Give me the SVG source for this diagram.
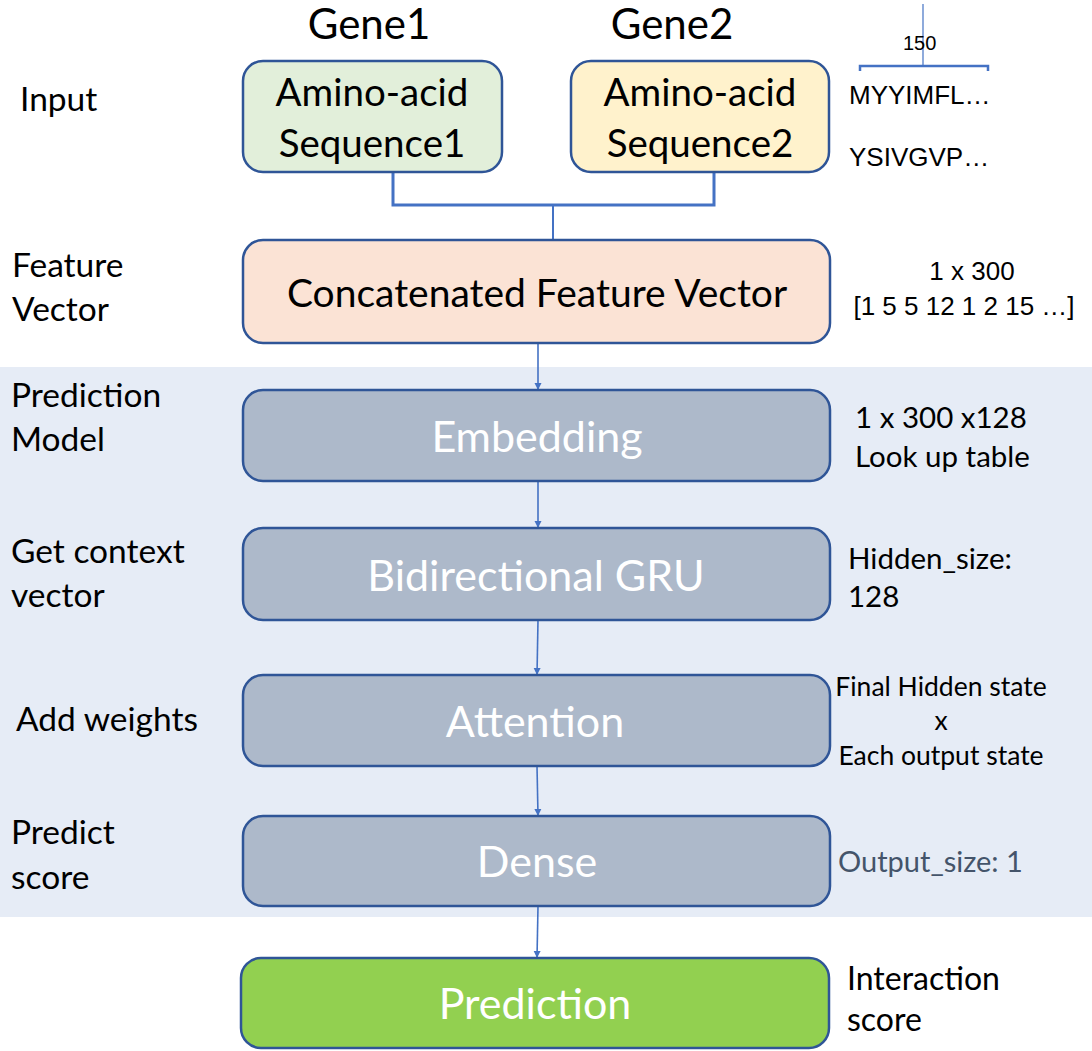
<svg xmlns="http://www.w3.org/2000/svg" width="1092" height="1051" viewBox="0 0 1092 1051">
  <defs>
    <style>
      .lbl { font-family: Lato, "Open Sans", sans-serif; fill: #000; }
      .arial { font-family: "Liberation Sans", Arial, sans-serif; fill: #000; }
      .box { stroke: #2F5597; stroke-width: 2.5; }
      .wtxt { font-family: Lato, "Open Sans", sans-serif; fill: #fff; font-size: 43px; text-anchor: middle; }
      .btxt { font-family: Lato, "Open Sans", sans-serif; fill: #000; text-anchor: middle; }
      .conn { stroke: #4472C4; fill: none; }
    </style>
    <marker id="arrow" viewBox="0 0 10 10" refX="10" refY="5" markerWidth="7" markerHeight="9" markerUnits="userSpaceOnUse" orient="auto">
      <path d="M0,0 L10,5 L0,10 z" fill="#4472C4"/>
    </marker>
  </defs>

  <rect width="1092" height="1051" fill="#fff"/>
  <!-- model band -->
  <rect x="0" y="367" width="1092" height="550" fill="#E6ECF6"/>

  <!-- headers -->
  <text class="btxt" x="369" y="39" font-size="42">Gene1</text>
  <text class="btxt" x="672" y="39" font-size="42">Gene2</text>

  <!-- stage labels -->
  <g class="lbl" font-size="33.5">
    <text x="20" y="111">Input</text>
    <text x="12" y="277">Feature</text>
    <text x="12" y="321">Vector</text>
    <text x="11" y="407">Prediction</text>
    <text x="11" y="451">Model</text>
    <text x="11" y="563">Get context</text>
    <text x="11" y="607">vector</text>
    <text x="16" y="731">Add weights</text>
    <text x="11" y="844">Predict</text>
    <text x="11" y="889">score</text>
  </g>

  <!-- connectors -->
  <g id="connectors">
    <path class="conn" stroke-width="3" d="M393,172 V205 H714 V172"/>
    <path class="conn" stroke-width="2" d="M553,205 V240"/>
    <path class="conn" stroke-width="1.6" marker-end="url(#arrow)" d="M538,343 V390"/>
    <path class="conn" stroke-width="1.6" marker-end="url(#arrow)" d="M538,481 V528"/>
    <path class="conn" stroke-width="1.6" marker-end="url(#arrow)" d="M538,620 L537,675"/>
    <path class="conn" stroke-width="1.6" marker-end="url(#arrow)" d="M537,766 L538,816"/>
    <path class="conn" stroke-width="1.6" marker-end="url(#arrow)" d="M538,906 L537,958"/>
    <!-- length bracket over sequence text -->
    <path class="conn" stroke-width="2.5" d="M860,71 V66 H988 V71"/>
    <path class="conn" stroke-width="1.2" d="M923,4 V66"/>
  </g>

  <!-- nodes -->
  <g id="seq1">
    <rect class="box" x="243" y="61" width="259" height="111" rx="20" fill="#E2EFDA"/>
    <text class="btxt" x="372" y="106" font-size="38.5">Amino-acid</text>
    <text class="btxt" x="372" y="157" font-size="38.5">Sequence1</text>
  </g>
  <g id="seq2">
    <rect class="box" x="571" y="61" width="258" height="111" rx="20" fill="#FFF2CC"/>
    <text class="btxt" x="700" y="106" font-size="38.5">Amino-acid</text>
    <text class="btxt" x="700" y="157" font-size="38.5">Sequence2</text>
  </g>
  <g id="feature">
    <rect class="box" x="243" y="240" width="587" height="103" rx="20" fill="#FBE3D5"/>
    <text class="btxt" x="537" y="307" font-size="39">Concatenated Feature Vector</text>
  </g>
  <g id="embedding">
    <rect class="box" x="243" y="390" width="587" height="91" rx="20" fill="#ADB9CA"/>
    <text class="wtxt" x="537" y="452">Embedding</text>
  </g>
  <g id="gru">
    <rect class="box" x="243" y="528" width="587" height="92" rx="20" fill="#ADB9CA"/>
    <text class="wtxt" x="536" y="591">Bidirectional GRU</text>
  </g>
  <g id="attention">
    <rect class="box" x="243" y="675" width="587" height="91" rx="20" fill="#ADB9CA"/>
    <text class="wtxt" x="535" y="737">Attention</text>
  </g>
  <g id="dense">
    <rect class="box" x="243" y="816" width="587" height="90" rx="20" fill="#ADB9CA"/>
    <text class="wtxt" x="537" y="877">Dense</text>
  </g>
  <g id="prediction">
    <rect class="box" x="241" y="958" width="588" height="90" rx="20" fill="#92D050"/>
    <text class="wtxt" x="535" y="1019">Prediction</text>
  </g>

  <!-- annotations -->
  <text class="arial" x="903" y="50" font-size="20">150</text>
  <text class="arial" x="849" y="104" font-size="26">MYYIMFL…</text>
  <text class="arial" x="849" y="166" font-size="26">YSIVGVP…</text>
  <text class="arial" x="972" y="280" font-size="26" text-anchor="middle">1 x 300</text>
  <text class="arial" x="964" y="315" font-size="26" text-anchor="middle">[1 5 5 12 1 2 15 …]</text>

  <g class="lbl" font-size="29.5">
    <text x="855" y="428">1 x 300 x128</text>
    <text x="855" y="467">Look up table</text>
    <text x="848" y="569">Hidden_size:</text>
    <text x="848" y="607">128</text>
  </g>
  <g class="lbl" font-size="26.5" text-anchor="middle">
    <text x="941" y="696">Final Hidden state</text>
    <text x="941" y="730">x</text>
    <text x="941" y="765">Each output state</text>
  </g>
  <text class="lbl" x="838" y="872" font-size="29" style="fill:#44546A">Output_size: 1</text>
  <g class="lbl" font-size="32">
    <text x="847" y="990">Interaction</text>
    <text x="847" y="1031">score</text>
  </g>
</svg>
